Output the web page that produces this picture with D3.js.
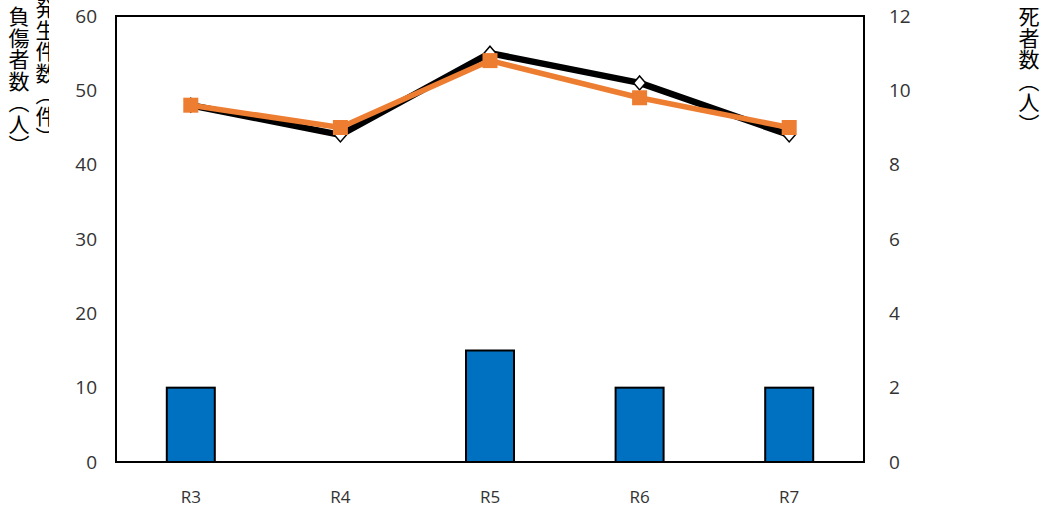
<!DOCTYPE html>
<html>
<head>
<meta charset="utf-8">
<script src="https://cdn.jsdelivr.net/npm/d3@7"></script>
<style>
  html, body { margin: 0; padding: 0; background: #fff; }
  svg { display: block; }
</style>
</head>
<body>
<svg id="chart" width="1051" height="508"></svg>
<script>
// Fiscal years
const years = ["R3", "R4", "R5", "R6", "R7"];
// 発生件数 (件) – left axis
const incidents = [48, 44, 55, 51, 44];
// 負傷者数 (人) – left axis
const injured = [48, 45, 54, 49, 45];
// 死者数 (人) – right axis
const deaths = [2, 0, 3, 2, 2];
const leftTicks = [0, 10, 20, 30, 40, 50, 60];
const rightTicks = [0, 2, 4, 6, 8, 10, 12];

const svg = d3.select("#chart");
const m = { left: 116, right: 864, top: 16, bottom: 462 };

const x = d3.scaleBand().domain(years).range([m.left, m.right]);
const yL = d3.scaleLinear().domain([0, 60]).range([m.bottom, m.top]);
const yR = d3.scaleLinear().domain([0, 12]).range([m.bottom, m.top]);

const tickFont = "'Open Sans', 'Noto Sans', sans-serif";
const cjk = "'Noto Sans CJK JP', sans-serif";

// Bars: deaths on the right scale
const barW = 48;
svg.append("g").selectAll("rect").data(deaths).join("rect")
  .attr("x", (d, i) => x(years[i]) + x.bandwidth() / 2 - barW / 2)
  .attr("y", d => yR(d))
  .attr("width", barW)
  .attr("height", d => m.bottom - yR(d))
  .attr("fill", "#0070C0")
  .attr("stroke", "#000")
  .attr("stroke-width", 2);

// Plot frame
svg.append("rect")
  .attr("x", m.left).attr("y", m.top)
  .attr("width", m.right - m.left).attr("height", m.bottom - m.top)
  .attr("fill", "none").attr("stroke", "#000").attr("stroke-width", 2);

const cx = (d, i) => x(years[i]) + x.bandwidth() / 2;

// Incidents line with diamond markers
const line = d3.line().x((d, i) => cx(d, i)).y(d => yL(d));
svg.append("path").datum(incidents)
  .attr("d", line).attr("fill", "none")
  .attr("stroke", "#000").attr("stroke-width", 6.5).attr("stroke-linejoin", "round");
svg.append("g").selectAll("path").data(incidents).join("path")
  .attr("transform", (d, i) => `translate(${cx(d, i)},${yL(d)})`)
  .attr("d", "M0,-7L6,0L0,7L-6,0Z")
  .attr("fill", "#fff").attr("stroke", "#000").attr("stroke-width", 1.5);

// Injured line with square markers
svg.append("path").datum(injured)
  .attr("d", line).attr("fill", "none")
  .attr("stroke", "#ED7D31").attr("stroke-width", 5.5).attr("stroke-linejoin", "round");
svg.append("g").selectAll("rect").data(injured).join("rect")
  .attr("x", (d, i) => cx(d, i) - 7.5)
  .attr("y", d => yL(d) - 7.5)
  .attr("width", 15).attr("height", 15)
  .attr("fill", "#ED7D31");

// Left axis labels
svg.append("g").selectAll("text").data(leftTicks).join("text")
  .attr("x", 97).attr("y", d => yL(d))
  .attr("dy", "0.35em").attr("text-anchor", "end")
  .attr("font-family", tickFont).attr("font-size", 19).attr("fill", "#333")
  .text(d => d);

// Right axis labels
svg.append("g").selectAll("text").data(rightTicks).join("text")
  .attr("x", 889).attr("y", d => yR(d))
  .attr("dy", "0.35em").attr("text-anchor", "start")
  .attr("font-family", tickFont).attr("font-size", 19).attr("fill", "#333")
  .text(d => d);

// Category labels
svg.append("g").selectAll("text").data(years).join("text")
  .attr("x", d => x(d) + x.bandwidth() / 2).attr("y", 497)
  .attr("dy", "0.35em").attr("text-anchor", "middle")
  .attr("font-family", tickFont).attr("font-size", 17).attr("fill", "#333")
  .text(d => d);

// Vertical axis titles
const defs = svg.append("defs");
defs.append("clipPath").attr("id", "leftClip")
  .append("rect").attr("x", 0).attr("y", 0).attr("width", 49).attr("height", 200);

const titles = svg.append("g").attr("clip-path", "url(#leftClip)");
function vtitle(g, txt, xPos, yPos) {
  g.append("text")
    .attr("x", xPos).attr("y", yPos)
    .style("writing-mode", "vertical-rl")
    .attr("font-family", cjk).attr("font-size", 21).attr("fill", "#000")
    .style("letter-spacing", "0.5px")
    .text(txt);
}
vtitle(titles, "負傷者数（人）", 19, 6);
vtitle(titles, "発生件数（件）", 46, -2);
vtitle(svg, "死者数（人）", 1029, 6);
</script>
</body>
</html>
